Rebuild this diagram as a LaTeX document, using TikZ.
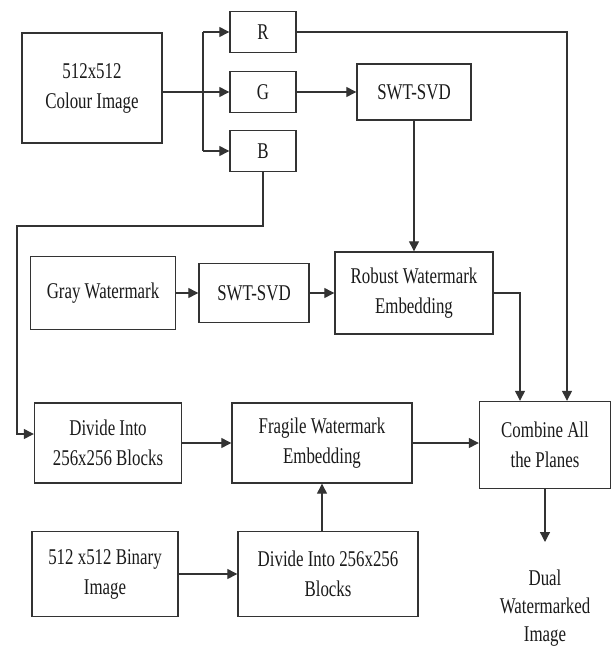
\documentclass[tikz,border=0pt]{standalone}
\usepackage{fontspec}
\setmainfont{Liberation Serif}[FakeStretch=0.75]
\usepackage{xcolor}
\usetikzlibrary{arrows.meta}
\definecolor{FlowLine}{HTML}{333333}
\definecolor{FlowText}{HTML}{1A1A1A}

\begin{document}
\begin{tikzpicture}[x=1pt,y=-1pt,
  blk/.style={draw=FlowLine, line width=1.4pt, text=FlowText, align=center, inner sep=0pt, font=\fontsize{22.5pt}{30pt}\selectfont},
  lbl/.style={text=FlowText, align=center, inner sep=0pt, font=\fontsize{22.5pt}{28pt}\selectfont},
  ln/.style={FlowLine, line width=1.3pt},
  arr/.style={FlowLine, line width=1.3pt, -{Triangle[length=10pt,width=10pt]}}]
        \useasboundingbox (0,0) rectangle (612,648);
        % colour image and its planes
        \node[blk, minimum width=140pt, minimum height=110pt] (img) at (92,88) {512x512\\Colour Image};
        \node[blk, minimum width=66pt, minimum height=41pt] (R) at (263,32) {R};
        \node[blk, minimum width=66pt, minimum height=41pt] (G) at (263,92) {G};
        \node[blk, minimum width=66pt, minimum height=41pt] (B) at (263,151) {B};
        \node[blk, minimum width=114pt, minimum height=56pt] (svdA) at (414,92) {SWT-SVD};
        % robust part
        \node[blk, minimum width=145pt, minimum height=73pt] (gray) at (103,293) {Gray Watermark};
        \node[blk, minimum width=110pt, minimum height=59pt] (svdB) at (254,293) {SWT-SVD};
        \node[blk, minimum width=158pt, minimum height=82pt] (rob) at (414,293) {Robust Watermark\\Embedding};
        % fragile part
        \node[blk, minimum width=147pt, minimum height=80pt] (divA) at (108,443) {Divide Into\\256x256 Blocks};
        \node[blk, minimum width=180pt, minimum height=80pt] (frag) at (322,443) {Fragile Watermark\\Embedding};
        \node[blk, minimum width=131pt, minimum height=87pt] (comb) at (545,445) {Combine All\\the Planes};
        \node[blk, minimum width=146pt, minimum height=85pt] (bin) at (105,574) {512 x512 Binary\\Image};
        \node[blk, minimum width=180pt, minimum height=85pt] (divB) at (328,574) {Divide Into 256x256\\Blocks};
        \node[lbl, anchor=north] (out) at (545,570) {Dual\\Watermarked\\Image};
        % connectors
        \coordinate (fork) at (203,92);
        \draw[ln] (img.east |- G) -- (fork);
        \draw[ln] (fork |- R) -- (fork |- B);
        \foreach \p in {R,G,B} {
          \draw[arr] (fork |- \p) -- (\p.west);
        }
        \draw[arr] (G) -- (svdA);
        \coordinate (rtop) at (567,32);
        \draw[arr] (R.east) -- (rtop) -- (rtop |- comb.north);
        \draw[arr] (svdA) -- (rob);
        \draw[arr] (gray) -- (svdB);
        \draw[arr] (svdB) -- (rob);
        \coordinate (rbend) at (520,293);
        \draw[arr] (rob.east) -- (rbend) -- (rbend |- comb.north);
        \coordinate (bbend) at (17,226);
        \draw[arr] (B.south) |- (bbend) |- ([yshift=9pt]divA.west);
        \draw[arr] (divA) -- (frag);
        \draw[arr] (frag.east) -- (frag.east -| comb.west);
        \draw[arr] (bin) -- (divB);
        \draw[arr] (divB.north -| frag.south) -- (frag.south);
        \draw[arr, shorten >=28pt] (comb.south) -- (comb.south |- out.north);
      \end{tikzpicture}
\end{document}
